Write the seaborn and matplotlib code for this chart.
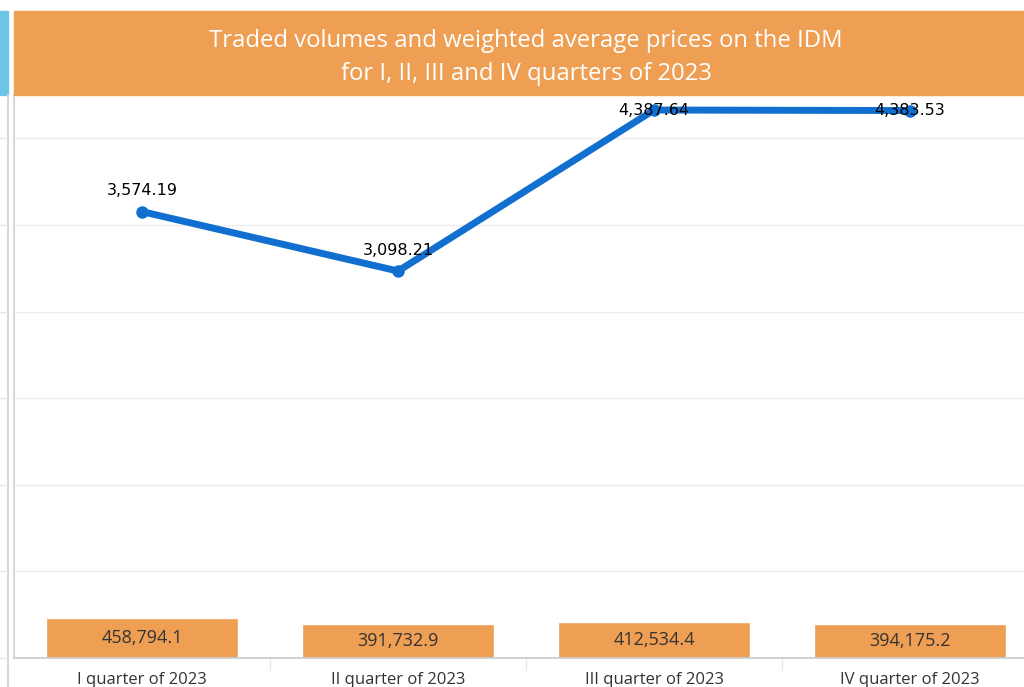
import numpy as np
import matplotlib
matplotlib.use("Agg")
import matplotlib.pyplot as plt
import seaborn as sns
from matplotlib.patches import Rectangle
from matplotlib.lines import Line2D

# Data
quarters = ["I quarter of 2023", "II quarter of 2023", "III quarter of 2023", "IV quarter of 2023"]
volumes = [458794.1, 391732.9, 412534.4, 394175.2]
prices = [3574.19, 3098.21, 4387.64, 4383.53]
title = "Traded volumes and weighted average prices on the IDM\nfor I, II, III and IV quarters of 2023"

orange = "#EE9F54"
blue_line = "#1170CF"
sky = "#6CC5E8"

sns.set_theme(style="white")
plt.rcParams["font.family"] = ["Open Sans", "DejaVu Sans"]

W, H = 1024, 687
fig = plt.figure(figsize=(W / 100, H / 100), dpi=100)

# main axes in pixel box
left, right, top, bottom = 14, 1024, 95, 658
ax = fig.add_axes([left / W, (H - bottom) / H, (right - left) / W, (bottom - top) / H])

sns.barplot(x=quarters, y=volumes, color=orange, saturation=1, width=0.75, ax=ax, zorder=2)
ax.set_ylim(0, 6.5e6)
ax.set_xlim(-0.5, 3.445)
ax.set_yticks(np.arange(1e6, 6.5e6, 1e6))
ax.yaxis.grid(True, color="#EDEDED", linewidth=1)
ax.set_axisbelow(True)
ax.set_xlabel("")
ax.set_ylabel("")
for s in ["top", "right"]:
    ax.spines[s].set_visible(False)
ax.spines["bottom"].set_color("#CCCCCC")
ax.spines["left"].set_color("#D8D8D8")
ax.spines["left"].set_linewidth(1.5)

for i, v in enumerate(volumes):
    ax.text(i, v / 2, f"{v:,.1f}", ha="center", va="center", fontsize=13, color="#333333", zorder=3)

# separators between categories below the axis
for xs in [0.5, 1.5, 2.5]:
    ax.add_line(Line2D([xs, xs], [0, -0.14e6], color="#E6E6E6", lw=1, clip_on=False))

# line on twin axis
ax2 = ax.twinx()
sns.lineplot(x=np.arange(len(prices)), y=prices, color=blue_line, linewidth=5, marker="o",
             markersize=9, markeredgewidth=0, ax=ax2, zorder=4)
ax2.set_ylim(0, 4508)
ax2.axis("off")
for i, p in enumerate(prices):
    if p > 4200:
        ax2.text(i, p, f"{p:,.2f}", ha="center", va="center", fontsize=11.5, color="black",
                 family="DejaVu Sans", zorder=5)
    else:
        ax2.annotate(f"{p:,.2f}", (i, p), xytext=(0, 9.5), textcoords="offset points",
                     ha="center", va="bottom", fontsize=11.5, color="black",
                     family="DejaVu Sans", zorder=5)

# twinx turns the left ticks back on, so hide them here
ax.tick_params(axis="y", left=False, right=False, labelleft=False, length=0)
ax.tick_params(axis="x", bottom=False, labelsize=12, pad=4)
for lbl in ax.get_xticklabels():
    lbl.set_color("#333333")

# title banner
fig.patches.append(Rectangle((left / W, (H - 95) / H), (right - left) / W, 84 / H,
                             transform=fig.transFigure, color=orange, zorder=0))
fig.patches.append(Rectangle((0, (H - 95) / H), 8 / W, 84 / H,
                             transform=fig.transFigure, color=sky, zorder=0))
fig.text(526 / W, (H - 57.5) / H, title, ha="center", va="center", color="white",
         fontsize=17.2, linespacing=1.5)

# small left panel: border line and tick stubs
fig.add_artist(Line2D([7.5 / W, 7.5 / W], [0, (H - 95) / H], transform=fig.transFigure,
                      color="#D8D8D8", lw=1.5))
for k in range(0, 7):
    y = bottom - k * (bottom - top) / 6.5
    fig.add_artist(Line2D([0, 7 / W], [(H - y) / H, (H - y) / H], transform=fig.transFigure,
                          color="#E6E6E6", lw=1))

fig.savefig("out.png", dpi=100)
